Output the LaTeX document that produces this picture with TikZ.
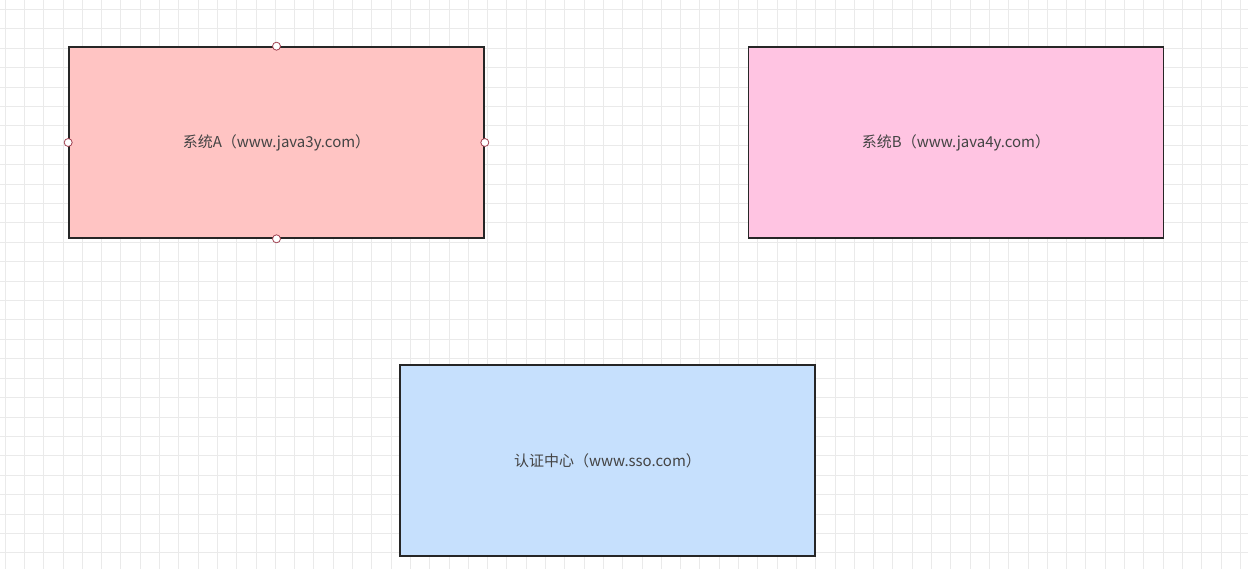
\documentclass[tikz,border=0pt]{standalone}
\usepackage{fontspec}
\newfontfamily\cjk{Noto Sans CJK SC}
\definecolor{gridc}{HTML}{EAEAEA}
\definecolor{fa}{HTML}{FFC4C3}
\definecolor{fb}{HTML}{FFC4E2}
\definecolor{fc}{HTML}{C6E0FD}
\definecolor{txt}{HTML}{444444}
\definecolor{hd}{HTML}{A04050}
\begin{document}
\begin{tikzpicture}[x=1pt,y=-1pt,
  box/.style={draw=black!85,line width=1.6pt,minimum width=415pt,minimum height=191pt,inner sep=0pt,font=\cjk\fontsize{15}{18}\selectfont,text=txt},
  handle/.style={circle,draw=hd,fill=white,line width=0.8pt,minimum size=8pt,inner sep=0pt}]
\useasboundingbox (0,0) rectangle (1248,569);
\fill[white] (0,0) rectangle (1248,569);
\foreach \i in {0,...,64} {\draw[gridc,line width=0.8pt] (5+19.3*\i,0) -- (5+19.3*\i,569);}
\foreach \i in {0,...,29} {\draw[gridc,line width=0.8pt] (0,9.5+19.4*\i) -- (1248,9.5+19.4*\i);}
\node[box,fill=fa] (a) at (276.5,142.5) {系统A（www.java3y.com）};
\node[box,fill=fb] (b) at (956,142.5) {系统B（www.java4y.com）};
\node[box,fill=fc] (c) at (607.5,460.5) {认证中心（www.sso.com）};
\node[handle] (h1) at (a.north) {};
\node[handle] (h2) at (a.south) {};
\node[handle] (h3) at (a.west) {};
\node[handle] (h4) at (a.east) {};
\end{tikzpicture}
\end{document}
